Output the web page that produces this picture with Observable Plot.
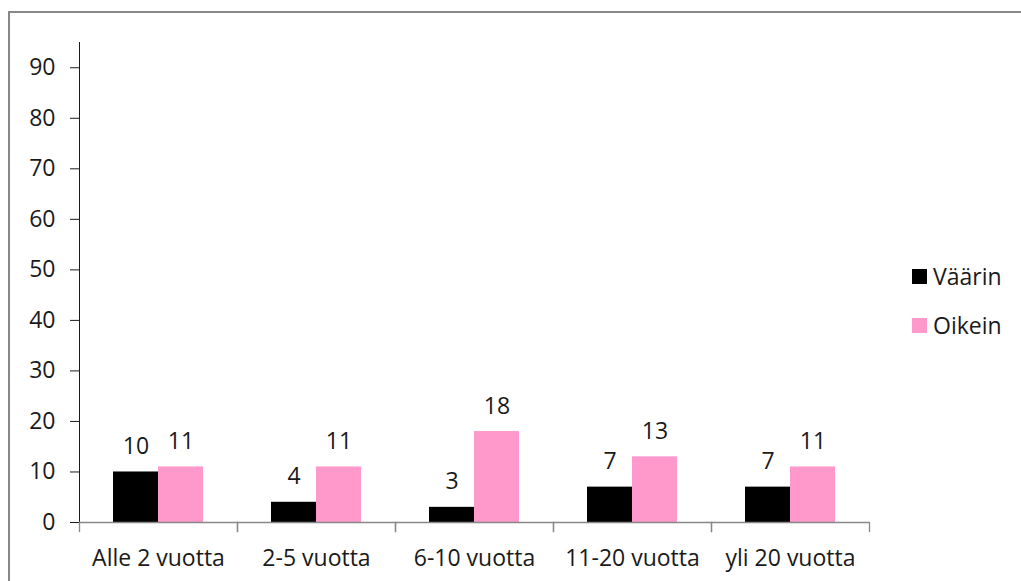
<!DOCTYPE html>
<html>
<head>
<meta charset="utf-8">
<script src="https://cdn.jsdelivr.net/npm/d3@7"></script>
<script src="https://cdn.jsdelivr.net/npm/@observablehq/plot@0.6"></script>
<style>
  html, body { margin: 0; padding: 0; background: #fff; overflow: hidden; }
  #wrap { position: relative; width: 1021px; height: 581px; font-family: "Open Sans", sans-serif; }
  #border { position: absolute; left: 8px; top: 11px; width: 1100px; height: 700px; border: 2px solid #888; box-sizing: border-box; }
  #chart { position: absolute; left: 0; top: 0; }
  #legend { position: absolute; left: 912px; top: 261px; font-size: 23px; color: #1a1a1a; }
  .item { display: flex; align-items: center; height: 30px; }
  .item + .item { margin-top: 19px; }
  .sw { width: 15px; height: 15px; margin-right: 6px; }
</style>
</head>
<body>
<div id="wrap">
  <div id="border"></div>
  <div id="chart"></div>
  <div id="legend"></div>
</div>
<script>
const categories = ["Alle 2 vuotta", "2-5 vuotta", "6-10 vuotta", "11-20 vuotta", "yli 20 vuotta"];
const series = ["Väärin", "Oikein"];
const vaarin = [10, 4, 3, 7, 7];
const oikein = [11, 11, 18, 13, 11];
const colors = ["#000000", "#FF99CC"];
const yTicks = [0, 10, 20, 30, 40, 50, 60, 70, 80, 90];

const data = [];
categories.forEach((c, i) => {
  data.push({category: c, series: series[0], value: vaarin[i]});
  data.push({category: c, series: series[1], value: oikein[i]});
});

const axisColor = "#888";
const plotHeight = 581 - 42 - 59;

const chart = Plot.plot({
  width: 1021,
  height: 581,
  marginLeft: 78,
  marginRight: 151,
  marginTop: 42,
  marginBottom: 59,
  style: {fontFamily: "Open Sans, sans-serif", fontSize: "23px", color: "#1a1a1a", background: "transparent"},
  fx: {domain: categories, padding: 0, label: null, tickSize: 0, tickPadding: 27},
  x: {domain: series, paddingInner: 0, paddingOuter: 0.74, axis: null},
  y: {domain: [0, 95], ticks: yTicks, tickSize: 9, tickPadding: 15, label: null, line: true},
  color: {domain: series, range: colors},
  marks: [
    Plot.barY(data, {fx: "category", x: "series", y: "value", fill: "series"}),
    Plot.ruleY([0], {stroke: axisColor, strokeWidth: 1.3}),
    Plot.frame({anchor: "left", stroke: axisColor, strokeWidth: 1.3, insetTop: plotHeight, insetBottom: -9}),
    Plot.frame({anchor: "right", stroke: axisColor, strokeWidth: 1.3, insetTop: plotHeight, insetBottom: -9}),
    Plot.text(data, {fx: "category", x: "series", y: "value", text: d => String(d.value), lineAnchor: "bottom", dy: -18, fill: "#1a1a1a", fontSize: 23})
  ]
});
chart.querySelectorAll("[aria-label='y-axis tick'], [aria-label='y-axis line'], [aria-label='fx-axis tick']").forEach(g => g.setAttribute("stroke", axisColor));
document.getElementById("chart").appendChild(chart);

const legend = document.getElementById("legend");
series.forEach((s, i) => {
  const item = document.createElement("div");
  item.className = "item";
  const sw = document.createElement("div");
  sw.className = "sw";
  sw.style.background = colors[i];
  const t = document.createElement("span");
  t.textContent = s;
  item.appendChild(sw);
  item.appendChild(t);
  legend.appendChild(item);
});
</script>
</body>
</html>
